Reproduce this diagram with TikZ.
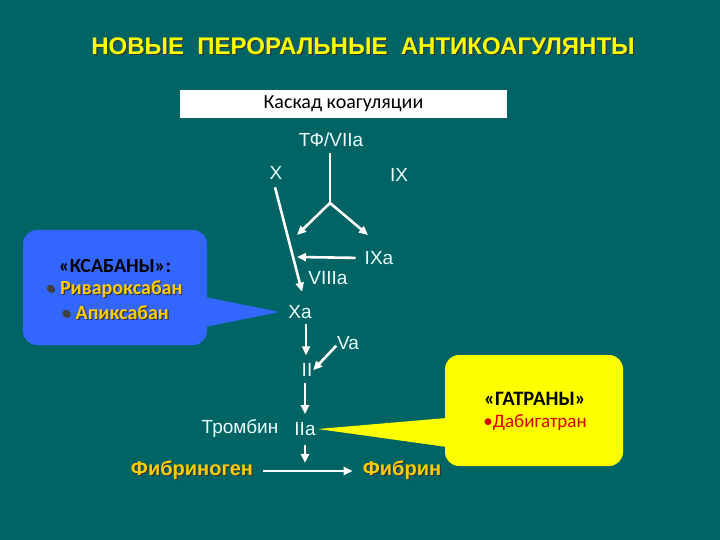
\documentclass[tikz,border=0pt]{standalone}
\usepackage{fontspec}
\setmainfont{Liberation Sans}
\newfontfamily\calfont{Carlito}
\usetikzlibrary{arrows.meta}
\definecolor{bg}{RGB}{0,100,100}
\definecolor{lbl}{RGB}{235,255,255}
\definecolor{ttl}{RGB}{255,255,0}
\definecolor{fib}{RGB}{255,204,0}
\definecolor{cblue}{RGB}{51,102,255}
\definecolor{cyel}{RGB}{255,255,0}
\definecolor{cred}{RGB}{215,0,0}
\newcommand\shtx[1]{\leavevmode\rlap{\hspace{1.2pt}\raisebox{-1.2pt}{\textcolor{black!80}{#1}}}#1}
\begin{document}
\begin{tikzpicture}[x=1pt,y=-1pt,
  lab/.style={text=lbl,font=\fontsize{19}{21}\selectfont,inner sep=0pt},
  arr/.style={draw=white,line width=2.6pt,-{Triangle[length=9pt,width=8pt]}},
  ln/.style={draw=white,line width=2.6pt},
  fibtxt/.style={text=fib,inner sep=0pt,font=\fontsize{20}{22}\selectfont\bfseries},
  calloutbox/.style={rounded corners=14pt,inner sep=0pt},
  cal/.style={inner sep=0pt,font=\calfont\fontsize{20}{22}\selectfont},
]
\fill[bg] (0,0) rectangle (720,540);
\useasboundingbox (0,0) rectangle (720,540);

% title
\node[text=ttl,inner sep=0pt,font=\fontsize{24}{28}\selectfont\bfseries] (title) at (363,47) {\shtx{НОВЫЕ\ \ ПЕРОРАЛЬНЫЕ\ \ АНТИКОАГУЛЯНТЫ}};

% header
\node[fill=white,minimum width=327pt,minimum height=28pt,inner sep=0pt,
      font=\calfont\fontsize{20}{22}\selectfont] (hdr) at (343.5,104) {Каскад коагуляции};

% labels
\node[lab] (tf) at (331,140) {ТФ/VIIa};
\node[lab] (x) at (276,173) {X};
\node[lab] (ix) at (399,175) {IX};
\node[lab] (ixa) at (379,258) {IXa};
\node[lab] (viiia) at (328,278) {VIIIa};
\node[lab] (xa) at (300,312) {Xa};
\node[lab] (va) at (348,343) {Va};
\node[lab] (ii) at (307,370) {II};
\node[lab] (tromb) at (240,429) {Тромбин};
\node[lab] (iia) at (305,429) {IIa};

\node[fibtxt] (fgn) at (192,471) {\shtx{Фибриноген}};
\node[fibtxt] (fbn) at (402,471) {\shtx{Фибрин}};

% coordinates
\coordinate (j) at (330,203);
\coordinate (ya) at (297,235);
\coordinate (yb) at (368,235);
\coordinate (m) at (297,257);

% connectors
\draw[ln] ([yshift=-6pt]tf.south -| j) -- (j);
\draw[arr] (j) -- (ya);
\draw[arr] (j) -- (yb);
\draw[arr] ([xshift=-1pt,yshift=-7.5pt]x.south) -- ([xshift=2pt,yshift=13.5pt]xa.north);
\draw[arr,shorten <=9pt] (ixa.west) -- (m);
\draw[arr] ([xshift=6pt,yshift=-5pt]xa.south) -- ([xshift=-1pt,yshift=8pt]ii.north);
\draw[arr,shorten <=1pt,shorten >=1pt] ([yshift=-2pt]va.west) -- ([yshift=-1pt]ii.east);
\draw[arr,shorten <=6pt,shorten >=8pt] (ii.south -| iia.south) -- (iia.north);
\draw[arr,shorten <=9pt] (iia.south) -- ([yshift=-2pt]iia.south |- fgn.north);
\draw[arr,shorten <=10pt,shorten >=10pt] (fgn.east) -- (fbn.west);

% blue callout
\node[calloutbox,fill=cblue,minimum width=184pt,minimum height=115pt] (cb) at (115,287.5) {};
\fill[cblue] ([xshift=-2pt]cb.east |- 0,297) -- ([xshift=-9pt]xa.west) -- ([xshift=-2pt]cb.east |- 0,327) -- cycle;
\node[cal,font=\calfont\fontsize{20}{22}\selectfont\bfseries] (ks) at (115,266) {«КСАБАНЫ»:};
\node[cal,text=fib] (riv) at (114,290) {\bfseries\shtx{\textcolor{black!75}{\mdseries •} Ривароксабан}};
\node[cal,text=fib] (api) at (115,313) {\bfseries\shtx{\textcolor{black!75}{\mdseries •} Апиксабан}};

% yellow callout
\node[calloutbox,fill=cyel,minimum width=178pt,minimum height=111pt] (cy) at (534,410.5) {};
\fill[cyel] ([xshift=2pt]cy.west |- 0,418) -- ([xshift=2pt]iia.east) -- ([xshift=2pt]cy.west |- 0,447) -- cycle;
\node[cal,font=\calfont\fontsize{20.5}{22}\selectfont\bfseries] (gt) at (535,399) {«ГАТРАНЫ»};
\node[cal,font=\calfont\fontsize{19}{21}\selectfont,text=cred] (dab) at (535,423) {•Дабигатран};
\end{tikzpicture}
\end{document}
